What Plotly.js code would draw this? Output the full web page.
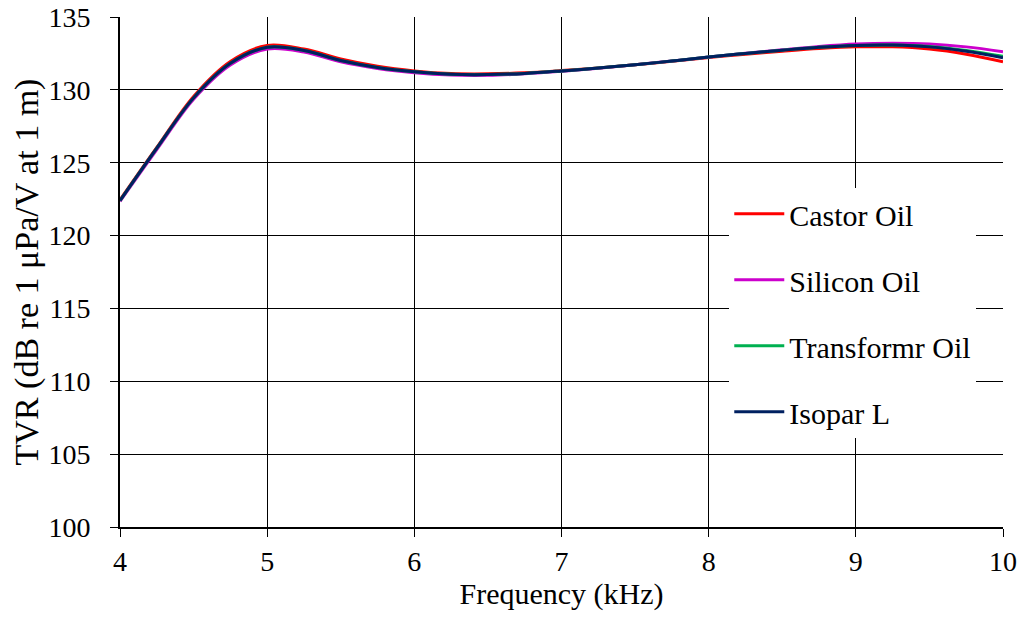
<!DOCTYPE html>
<html><head><meta charset="utf-8">
<script src="https://cdn.plot.ly/plotly-3.0.1.min.js"></script>
<style>body{margin:0;background:#fff}#chart{width:1023px;height:630px}</style>
</head><body><div id="chart"></div>
<script>
const freq = [4.0,4.25,4.5,4.75,5.0,5.25,5.5,5.75,6.0,6.25,6.5,6.75,7.0,7.25,7.5,7.75,8.0,8.25,8.5,8.75,9.0,9.25,9.5,9.75,10.0];
const castor = [122.45,126.05,129.55,131.95,133.05,132.8,132.12,131.62,131.3,131.12,131.1,131.17,131.32,131.5,131.72,131.97,132.22,132.45,132.65,132.83,132.95,132.95,132.8,132.45,131.93];
const silicon = [122.35,125.9,129.35,131.7,132.8,132.6,131.92,131.47,131.18,131.02,131.0,131.1,131.27,131.48,131.72,131.98,132.25,132.52,132.75,132.98,133.15,133.2,133.15,132.95,132.62];
const transformr = [122.4,126.0,129.45,131.82,132.92,132.7,132.02,131.54,131.24,131.07,131.05,131.13,131.3,131.5,131.72,131.98,132.25,132.5,132.72,132.92,133.05,133.08,132.98,132.7,132.3];
const isopar = [122.4,126.0,129.45,131.82,132.92,132.7,132.02,131.54,131.24,131.07,131.05,131.13,131.3,131.5,131.72,131.98,132.25,132.5,132.72,132.92,133.05,133.07,132.95,132.65,132.2];
const names = ["Castor Oil","Silicon Oil","Transformr Oil","Isopar L"];
const colors = ["#FF0000","#CC00CC","#00B050","#002060"];
const series = [castor, silicon, transformr, isopar];
const xTicks = [4,5,6,7,8,9,10];
const yTicks = [100,105,110,115,120,125,130,135];

const traces = series.map((s,i)=>({
  x: freq, y: s, name: names[i], type:'scatter', mode:'lines',
  line:{color:colors[i], width:3, shape:'spline', smoothing:1},
  legendgroup:'g'+i
}));
const fam = 'Liberation Serif, Times New Roman, serif';
const layout = {
  width:1023, height:630,
  margin:{l:120, r:20, t:17, b:103},
  paper_bgcolor:'#fff', plot_bgcolor:'#fff',
  font: {family:fam, color:'#000', size:28},
  showlegend:true,
  legend:{x:0.69, y:0.665, xanchor:'left', yanchor:'top', bgcolor:'#fff', borderwidth:0,
    font:{family:fam, size:30, color:'#000'}, tracegroupgap:24, itemwidth:50},
  xaxis:{range:[4,10], tickvals:xTicks, ticktext:xTicks.map(String), showgrid:true, gridcolor:'#000', gridwidth:1,
    showline:true, linecolor:'#000', linewidth:2, ticks:'outside', ticklen:8, tickcolor:'#000', tickwidth:1,
    zeroline:false, tickfont:{family:fam, size:28, color:'#000'},
    title:{text:'Frequency (kHz)', font:{family:fam, size:30, color:'#000'}, standoff:0}},
  yaxis:{range:[100,135], tickvals:yTicks, ticktext:yTicks.map(v=>v+'\u00A0\u00A0'), showgrid:true, gridcolor:'#000', gridwidth:1,
    showline:true, linecolor:'#000', linewidth:2, ticks:'outside', ticklen:8, tickcolor:'#000', tickwidth:1,
    zeroline:false, tickfont:{family:fam, size:28, color:'#000'},
    title:{text:'TVR (dB re 1 μPa/V at 1 m)', font:{family:fam, size:34, color:'#000'}, standoff:0}}
};
Plotly.newPlot('chart', traces, layout, {staticPlot:true});
</script></body></html>
